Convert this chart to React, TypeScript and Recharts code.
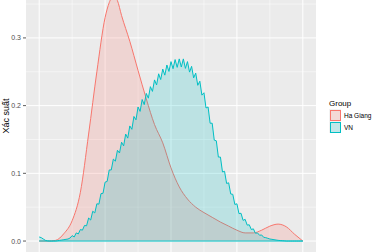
import React from 'react';
import { ComposedChart, Area, XAxis, YAxis, CartesianGrid, ReferenceLine } from 'recharts';

// x positions (unlabelled axis, 0..128)
const vnX = [
  0, 1, 2, 3, 4, 5, 6, 7, 8, 9,
  10, 11, 12, 13, 14, 15, 16, 17, 18, 19,
  20, 21, 22, 23, 24, 25, 26, 27, 28, 29,
  30, 31, 32, 33, 34, 35, 36, 37, 38, 39,
  40, 41, 42, 43, 44, 45, 46, 47, 48, 49,
  50, 51, 52, 53, 54, 55, 56, 57, 58, 59,
  60, 61, 62, 63, 64, 65, 66, 67, 68, 69,
  70, 71, 72, 73, 74, 75, 76, 77, 78, 79,
  80, 81, 82, 83, 84, 85, 86, 87, 88, 89,
  90, 91, 92, 93, 94, 95, 96, 97, 98, 99,
  100, 101, 102, 103, 104, 105, 106, 107, 108, 109,
  110, 111, 112, 113, 114, 115, 116, 117, 118, 119,
  120, 121, 122, 123, 124, 125, 126, 127, 128,
];
const vnY = [
  0.006, 0.005, 0.003, 0.001, 0.0003, 0, 0, 0, 0, 0.0005,
  0.001, 0.0015, 0.002, 0.0025, 0.003, 0.0045, 0.008, 0.006, 0.012, 0.0105,
  0.017, 0.016, 0.023, 0.0225, 0.034, 0.031, 0.044, 0.0415, 0.055, 0.0545,
  0.07, 0.0705, 0.087, 0.088, 0.105, 0.105, 0.121, 0.118, 0.134, 0.13,
  0.146, 0.1405, 0.158, 0.152, 0.17, 0.165, 0.184, 0.179, 0.198, 0.1915,
  0.209, 0.2015, 0.218, 0.211, 0.228, 0.221, 0.238, 0.2305, 0.247, 0.2385,
  0.254, 0.245, 0.26, 0.2505, 0.265, 0.2545, 0.268, 0.2565, 0.269, 0.257,
  0.269, 0.255, 0.265, 0.2495, 0.258, 0.241, 0.248, 0.23, 0.236, 0.2155,
  0.219, 0.1965, 0.198, 0.174, 0.174, 0.149, 0.148, 0.124, 0.124, 0.102,
  0.103, 0.085, 0.086, 0.0695, 0.069, 0.054, 0.055, 0.0405, 0.041, 0.0305,
  0.032, 0.0235, 0.024, 0.017, 0.018, 0.0115, 0.012, 0.0085, 0.009, 0.0055,
  0.005, 0.004, 0.003, 0.0025, 0.002, 0.0015, 0.001, 0.0007, 0.0005, 0.0003,
  0, 0, 0, 0, 0, 0, 0, 0, 0,
];

const hgX = [0, 4, 8, 12, 16, 20, 24, 28, 32, 34, 36, 38, 40, 44, 48, 52, 56, 60, 64, 68, 72, 76, 80, 84, 88, 92, 96, 100, 104, 108, 112, 116, 120, 124, 128];
const hgY = [0, 0, 0.001, 0.011, 0.03, 0.072, 0.158, 0.25, 0.33, 0.352, 0.362, 0.355, 0.333, 0.295, 0.252, 0.21, 0.172, 0.145, 0.108, 0.08, 0.062, 0.05, 0.042, 0.035, 0.028, 0.022, 0.016, 0.012, 0.012, 0.016, 0.022, 0.025, 0.021, 0.01, 0];

const yTicks = [0, 0.1, 0.2, 0.3];
const yMinor = [0.05, 0.15, 0.25, 0.35];
const xMajor = [0, 32, 64, 96, 128];
const xMinor = [16, 48, 80, 112];
const groups = ['Ha Giang', 'VN'];
const colors = ['#F8766D', '#00BFC4'];

const data = vnX.map((x, i) => {
  const j = hgX.indexOf(x);
  return { x, vn: vnY[i], hg: j >= 0 ? hgY[j] : null };
});

const FONT = '"Liberation Sans", Arial, sans-serif';

export default function App() {
  return (
    <div style={{ position: 'absolute', left: 0, top: 0, width: 378, height: 252, background: '#fff', fontFamily: FONT }}>
      <ComposedChart width={378} height={252} data={data} margin={{ top: 0, right: 62, bottom: 0, left: 0 }}>
        <CartesianGrid fill="#EBEBEB" fillOpacity={1} stroke="#FFFFFF" strokeWidth={0.5}
          horizontalValues={yMinor} verticalValues={xMinor} />
        <CartesianGrid fill="none" stroke="#FFFFFF" strokeWidth={1}
          horizontalValues={yTicks} verticalValues={xMajor} />
        <XAxis type="number" dataKey="x" domain={[-6.4, 134.4]} hide allowDataOverflow />
        <YAxis type="number" domain={[-0.0162, 0.356]} ticks={yTicks} allowDataOverflow width={26}
          interval={0} axisLine={false} tickSize={3} tickMargin={2}
          tickLine={{ stroke: '#333333', strokeWidth: 0.8 }}
          tick={{ fill: '#4D4D4D', fontSize: 7, fontFamily: FONT }}
          tickFormatter={(v: number) => v.toFixed(1)} />
        <Area type="monotone" dataKey="hg" connectNulls stroke={colors[0]} strokeWidth={1}
          fill={colors[0]} fillOpacity={0.2} isAnimationActive={false} dot={false} activeDot={false} />
        <Area type="linear" dataKey="vn" stroke={colors[1]} strokeWidth={1}
          fill={colors[1]} fillOpacity={0.2} isAnimationActive={false} dot={false} activeDot={false} />
        <ReferenceLine segment={[{ x: 0, y: 0 }, { x: 128, y: 0 }]} stroke={colors[1]} strokeWidth={1} ifOverflow="visible" />
      </ComposedChart>
      <div style={{ position: 'absolute', left: 6, top: 116, transform: 'translate(-50%, -50%) rotate(-90deg)', fontSize: 9, whiteSpace: 'nowrap', color: '#000' }}>
        Xác suất
      </div>
      <div style={{ position: 'absolute', left: 329, top: 99, fontSize: 8, lineHeight: '10px', color: '#000' }}>Group</div>
      {groups.map((g, i) => (
        <React.Fragment key={g}>
          <div style={{ position: 'absolute', left: 329, top: 109 + i * 12, width: 12, height: 12, background: '#F2F2F2' }}>
            <div style={{ position: 'absolute', left: 0.5, top: 0.5, width: 11, height: 11, boxSizing: 'border-box',
              border: `1px solid ${colors[i]}`, background: i === 0 ? 'rgba(248,118,109,0.2)' : 'rgba(0,191,196,0.2)' }} />
          </div>
          <div style={{ position: 'absolute', left: 344, top: 110.5 + i * 12, fontSize: 6.5, lineHeight: '10px', color: '#000', whiteSpace: 'nowrap' }}>{g}</div>
        </React.Fragment>
      ))}
    </div>
  );
}
